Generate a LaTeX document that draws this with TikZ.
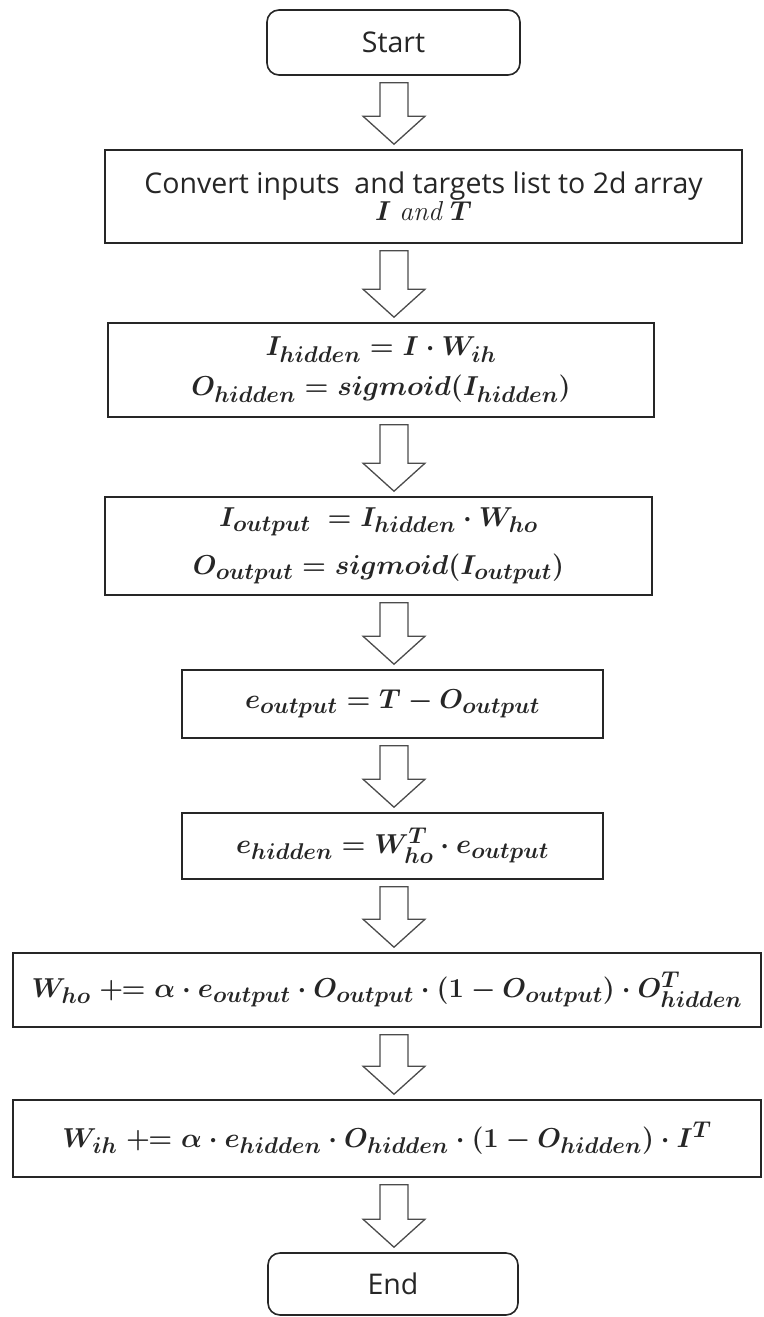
\documentclass[tikz,border=0pt]{standalone}
\usepackage{amsmath,bm}
\usepackage{graphicx}
\usepackage{fontspec}
\newfontfamily\uifont{Open Sans}
\usetikzlibrary{calc}
% bold formula, enlarged past the largest fixed math size
\newcommand{\eqline}[1]{\scalebox{1.1}{\boldmath$#1$}}
% hollow block arrow drawn between two stacked boxes, on the common axis
\newcommand{\flowstep}[2]{%
  \draw[flowarrow] let \p1=(axis |- #1.south), \p2=(axis |- #2.north) in
    (\x1-14pt,\y1-7pt) -- (\x1+14pt,\y1-7pt) -- (\x1+14pt,\y2+33pt) --
    (\x1+31pt,\y2+33pt) -- (\x1,\y2+5pt) -- (\x1-31pt,\y2+33pt) --
    (\x1-14pt,\y2+33pt) -- cycle;}
\begin{document}
\begin{tikzpicture}[x=1pt,y=1pt,
  box/.style={draw=black!85, line width=1.6pt, fill=white, inner sep=0pt,
    align=center, text=black!85},
  term/.style={box, rounded corners=12pt},
  uitext/.style={font=\uifont\fontsize{28.5}{33}\selectfont},
  mtext/.style={font=\fontsize{24.88}{34}\selectfont},
  flowarrow/.style={draw=black!70, line width=1.3pt, fill=white, line join=miter}]
\useasboundingbox (0,0) rectangle (763,-1317);
\fill[white] (0,0) rectangle (763,-1317);
\coordinate (axis) at (394,0);

\node[term, uitext, minimum width=253, minimum height=65] (start) at (393.5,-42.5) {Start};
\node[box, minimum width=637, minimum height=93] (conv) at (423.5,-196.5)
  {{\uifont\fontsize{28.5}{33}\selectfont Convert inputs\ \ and targets list to 2d array}\\
   {\fontsize{24.88}{32}\selectfont\scalebox{1.1}{$\bm{I}\ \mathit{and}\ \bm{T}$}}};
\node[box, mtext, minimum width=546, minimum height=94] (hid) at (381,-370)
  {\eqline{I_{hidden} = I\cdot W_{ih}}\\[6pt] \eqline{O_{hidden} = sigmoid(I_{hidden})}};
\node[box, mtext, minimum width=547, minimum height=98] (out) at (378.5,-546)
  {\eqline{I_{output}\ = I_{hidden}\cdot W_{ho}}\\[14pt] \eqline{O_{output} = sigmoid(I_{output})}};
\node[box, mtext, minimum width=421, minimum height=68] (eout) at (392.5,-704)
  {\eqline{e_{output} = T - O_{output}}};
\node[box, mtext, minimum width=421, minimum height=66] (ehid) at (392.5,-846)
  {\eqline{e_{hidden} = W^{T}_{ho}\cdot e_{output}}};
\node[box, mtext, minimum width=748, minimum height=74] (who) at (387,-990)
  {\eqline{W_{ho} \mathrel{+\!\!=} \alpha\cdot e_{output}\cdot O_{output}\cdot(1-O_{output})\cdot O^{T}_{hidden}}};
\node[box, mtext, minimum width=748, minimum height=77] (wih) at (387,-1138.5)
  {\eqline{W_{ih} \mathrel{+\!\!=} \alpha\cdot e_{hidden}\cdot O_{hidden}\cdot(1-O_{hidden})\cdot I^{T}}};
\node[term, uitext, minimum width=250, minimum height=62] (end) at (393,-1284) {End};

\flowstep{start}{conv}
\flowstep{conv}{hid}
\flowstep{hid}{out}
\flowstep{out}{eout}
\flowstep{eout}{ehid}
\flowstep{ehid}{who}
\flowstep{who}{wih}
\flowstep{wih}{end}
\end{tikzpicture}
\end{document}
